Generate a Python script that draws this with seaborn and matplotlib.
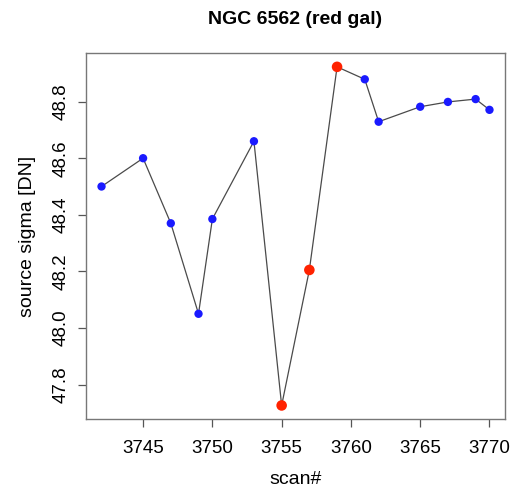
import matplotlib
matplotlib.use("Agg")
import matplotlib.pyplot as plt
import seaborn as sns
import pandas as pd

scans = [3742, 3745, 3747, 3749, 3750, 3753, 3755, 3757, 3759, 3761, 3762, 3765, 3767, 3769, 3770]
sigma = [48.50, 48.60, 48.37, 48.05, 48.385, 48.66, 47.726, 48.205, 48.923, 48.879, 48.729, 48.782, 48.799, 48.809, 48.771]
flag = ["ok", "ok", "ok", "ok", "ok", "ok", "bad", "bad", "bad", "ok", "ok", "ok", "ok", "ok", "ok"]
x_ticks = [3745, 3750, 3755, 3760, 3765, 3770]
y_ticks = [47.8, 48.0, 48.2, 48.4, 48.6, 48.8]
title = "NGC 6562 (red gal)"
xlabel = "scan#"
ylabel = "source sigma [DN]"

df = pd.DataFrame({"scan": scans, "sigma": sigma, "flag": flag})

sns.set_style("white")
plt.rcParams["font.family"] = ["Liberation Sans", "DejaVu Sans"]
plt.rcParams["text.color"] = "black"
plt.rcParams["axes.labelcolor"] = "black"

fig = plt.figure(figsize=(5.12, 4.91), dpi=100)
ax = fig.add_axes([86/512, 1 - 419/491, (505 - 86)/512, (419 - 53.3)/491])

sns.lineplot(data=df, x="scan", y="sigma", color="#4a4a4a", linewidth=0.9, ax=ax, zorder=1)
sns.scatterplot(data=df, x="scan", y="sigma", hue="flag", size="flag",
                palette={"ok": "#1a1aff", "bad": "#ff2200"},
                sizes={"ok": 36, "bad": 58}, edgecolor="none", legend=False, ax=ax, zorder=2)

xr = max(scans) - min(scans)
yr = max(sigma) - min(sigma)
ax.set_xlim(min(scans) - 0.04 * xr, max(scans) + 0.04 * xr)
ax.set_ylim(min(sigma) - 0.04 * yr, max(sigma) + 0.04 * yr)
ax.set_xticks(x_ticks)
ax.set_yticks(y_ticks)
ax.set_xticklabels([str(t) for t in x_ticks], fontsize=13.5)
ax.set_yticklabels([f"{t:.1f}" for t in y_ticks], fontsize=13.5, rotation=90, va="center")

for s in ax.spines.values():
    s.set_visible(True)
    s.set_color("#777777")
    s.set_linewidth(1.0)

ax.tick_params(axis="both", which="major", direction="out", length=6, width=0.9,
               color="#555555", labelcolor="black",
               bottom=True, left=True, top=False, right=False)
ax.tick_params(axis="x", pad=9)
ax.tick_params(axis="y", pad=6)
ax.set_xlabel(xlabel, fontsize=14, labelpad=10)
ax.set_ylabel(ylabel, fontsize=14, labelpad=12)
ax.set_title(title, fontsize=14, fontweight="bold", pad=21)

fig.savefig("out.png", dpi=100)
